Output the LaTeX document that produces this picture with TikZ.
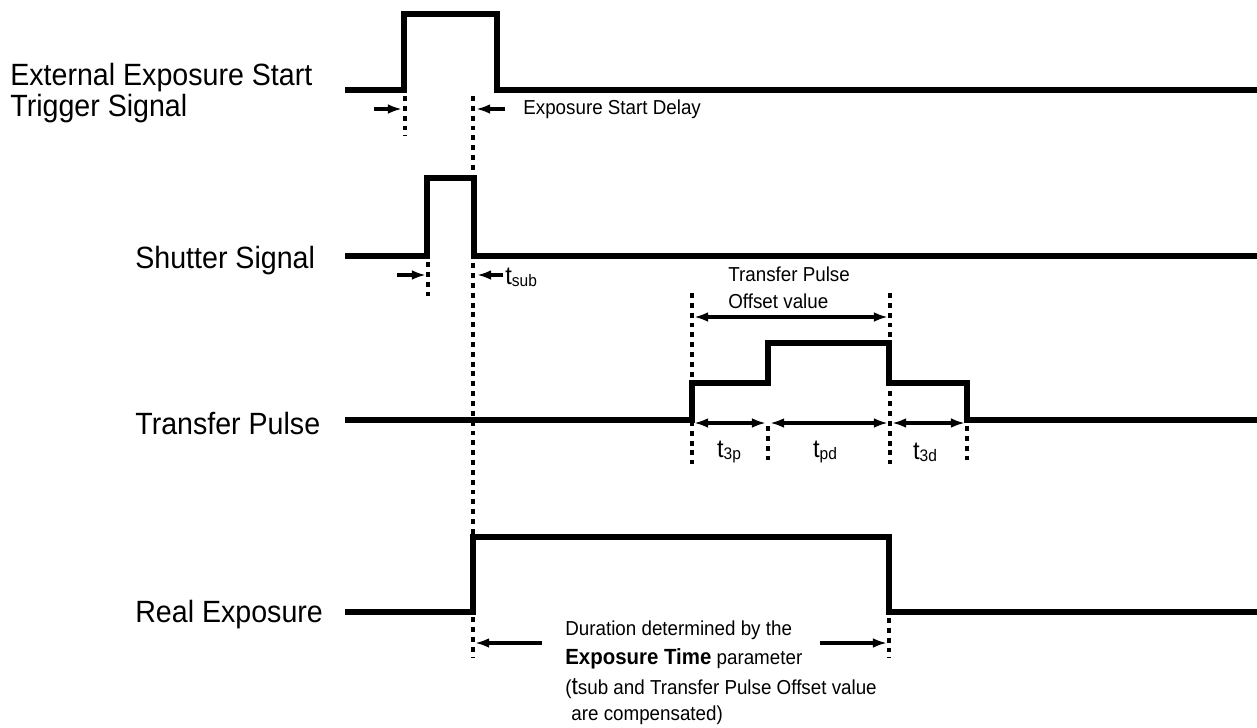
\documentclass[tikz,border=0pt]{standalone}
\usepackage{fontspec}
\setmainfont{Liberation Sans}[FakeStretch=0.93]
\usetikzlibrary{arrows.meta}
\tikzset{
  sig/.style={line width=3.8pt, line join=miter},
  guide/.style={line width=2.3pt, dash pattern=on 2.8pt off 2.8pt},
  dim/.style={line width=1.8pt, -{Latex[length=8pt,width=5.5pt]}},
  dimboth/.style={line width=1.8pt, {Latex[length=8pt,width=5.5pt]}-{Latex[length=8pt,width=5.5pt]}},
  lbl/.style={font=\fontsize{17.5}{18}\selectfont, anchor=west, inner sep=0, align=left},
  note/.style={font=\fontsize{11.5}{15.3}\selectfont, inner sep=0, align=left},
  tlab/.style={font=\fontsize{14.5}{15}\selectfont, inner sep=0},
}
\newcommand{\tsym}[1]{t{\fontsize{9.5}{10}\selectfont\raisebox{-1pt}{#1}}}

\begin{document}
\begin{tikzpicture}[x=0.02cm, y=-0.02cm]
\useasboundingbox (0,0) rectangle (1257,727);

% signal names
\node[lbl] (trig) at (10,93) {External Exposure Start\\Trigger Signal};
\node[lbl] (shut) at (135,261) {Shutter Signal};
\node[lbl] (tpul) at (135,424) {Transfer Pulse};
\node[lbl] (real) at (135,615) {Real Exposure};

% dotted guides
\draw[guide] (405,96) -- (405,136);
\draw[guide] (473,96) -- (473,658);
\draw[guide] (428,262) -- (428,300);
\draw[guide] (692,293) -- (692,464);
\draw[guide] (768,426) -- (768,464);
\draw[guide] (890,293) -- (890,464);
\draw[guide] (967,426) -- (967,464);
\draw[guide] (889,618) -- (889,658);

% waveforms
\draw[sig] (345,90) -- (404,90) -- (404,14) -- (497,14) -- (497,90) -- (1257,90);
\draw[sig] (345,256) -- (427,256) -- (427,178) -- (474,178) -- (474,256) -- (1257,256);
\draw[sig] (345,420) -- (692,420) -- (692,383) -- (768,383) -- (768,343)
  -- (889,343) -- (889,383) -- (967,383) -- (967,420) -- (1257,420);
\draw[sig] (345,612) -- (473,612) -- (473,537) -- (889,537) -- (889,612) -- (1257,612);

% trigger delay
\draw[dim] (374,109) -- (402,109);
\draw[dim] (505,109) -- (476,109);
\node[note, anchor=west] (delay) at (523,109) {Exposure Start Delay};

% shutter
\draw[dim] (397,275) -- (426,275);
\draw[dim] (503,275) -- (477,275);
\node[tlab, anchor=west] (tsub) at (505,277) {\tsym{sub}};

% transfer pulse
\node[note, anchor=west] (offs) at (728,288) {Transfer Pulse\\Offset value};
\draw[dimboth] (694,317) -- (888,317);
\draw[dimboth] (694,423) -- (766,423);
\draw[dimboth] (770,423) -- (888,423);
\draw[dimboth] (892,423) -- (965,423);
\node[tlab] (t3p) at (729,452) {\tsym{3p}};
\node[tlab] (tpd) at (825,452) {\tsym{pd}};
\node[tlab] (t3d) at (925,452) {\tsym{3d}};

% real exposure
\draw[dim] (542,643) -- (475,643);
\draw[dim] (820,643) -- (887,643);
\node[note, anchor=north west] (dur) at (565,620)
  {Duration determined by the\\[1.5pt]
   {\fontsize{12.5}{15.3}\selectfont\bfseries Exposure Time} parameter\\[1.5pt]
   ({\fontsize{14}{15}\selectfont t}sub and Transfer Pulse Offset value\\
   \hspace{0.3em}are compensated)};
\end{tikzpicture}
\end{document}
